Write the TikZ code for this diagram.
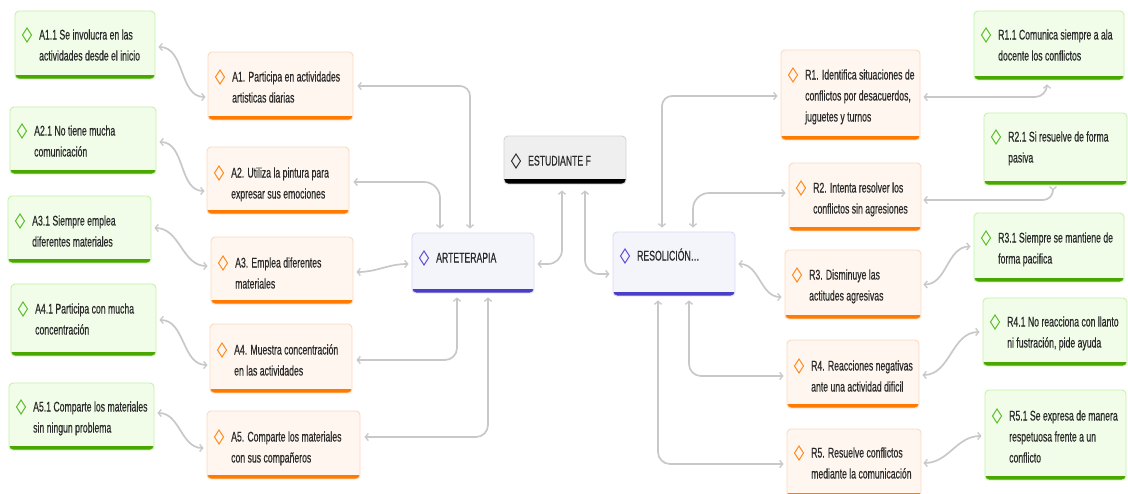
\documentclass[tikz,border=0pt]{standalone}
\usepackage{fontspec}
\setmainfont{Liberation Sans}[FakeStretch=0.62,FakeBold=0.4]
\usetikzlibrary{arrows.meta,calc}
\definecolor{tcol}{HTML}{2A2A2A}
\definecolor{ofill}{HTML}{FFF6EF}
\definecolor{oborder}{HTML}{FDD9BE}
\definecolor{obar}{HTML}{FF7A00}
\definecolor{odiacol}{HTML}{FF8A1E}
\definecolor{gfill}{HTML}{F1FDE9}
\definecolor{gborder}{HTML}{C6F2AA}
\definecolor{gbar}{HTML}{4AA600}
\definecolor{gdiacol}{HTML}{5CBE2C}
\definecolor{pfill}{HTML}{F4F4FB}
\definecolor{pborder}{HTML}{DCDAF6}
\definecolor{pbar}{HTML}{4A3FC6}
\definecolor{pdiacol}{HTML}{5B50D6}
\definecolor{kfill}{HTML}{EFEFEF}
\definecolor{kborder}{HTML}{D4D4D4}
\definecolor{kbar}{HTML}{000000}
\definecolor{kdiacol}{HTML}{333333}
\definecolor{cgrey}{HTML}{C8C8C8}
\tikzset{
  bx/.style n args={4}{rounded corners=4pt, line width=0.9pt, inner sep=0pt, draw=#1, fill=#2,
    path picture={\fill[#3, sharp corners] ([yshift=#4]path picture bounding box.south west) rectangle (path picture bounding box.south east);}},
  obox/.style={bx={oborder}{ofill}{obar}{4pt}},
  gbox/.style={bx={gborder}{gfill}{gbar}{4pt}},
  pbox/.style={bx={pborder}{pfill}{pbar}{4.5pt}},
  kbox/.style={bx={kborder}{kfill}{kbar}{5.5pt}},
  odiam/.style={draw=odiacol, line width=1pt},
  gdiam/.style={draw=gdiacol, line width=1pt},
  pdiam/.style={draw=pdiacol, line width=1pt},
  kdiam/.style={draw=kdiacol, line width=1pt},
  txt/.style={font=\fontsize{14}{21}\selectfont, text=tcol, inner sep=0pt, anchor=base west},
  con/.style={draw=cgrey, line width=1.7pt,
    {Straight Barb[length=3pt,width=7pt,line width=1.3pt]}-{Straight Barb[length=3pt,width=7pt,line width=1.3pt]}},
}
\newcommand\mybox[8]{%
  \node[#2box, minimum width={(#5-#3)*1pt}, minimum height={(#6-#4)*1pt}] (#1) at ({(#3+#5)/2},{(#4+#6)/2}) {};
  \draw[#2diam, shift={({#3+12},{#7})}] (0,-7) -- (4.5,0) -- (0,7) -- (-4.5,0) -- cycle;
  \node[txt] (#1t) at ({#3+24},{#7+4.5}) {\begin{tabular}[t]{@{}l@{}}#8\end{tabular}};
}
\begin{document}
\begin{tikzpicture}[x=1pt,y=-1pt]
\fill[white] (0,0) rectangle (1128,493);
\useasboundingbox (0,0) rectangle (1128,493);

\mybox{a11}{g}{15}{11}{155}{79}{35}{A1.1 Se involucra en las\\actividades desde el inicio}
\mybox{a21}{g}{10}{107}{156}{174}{131}{A2.1 No tiene mucha\\comunicación}
\mybox{a31}{g}{8}{196}{151}{263}{221}{A3.1 Siempre emplea\\diferentes materiales}
\mybox{a41}{g}{11}{284}{156}{356}{309}{A4.1 Participa con mucha\\concentración}
\mybox{a51}{g}{9}{383}{154}{450}{407}{A5.1 Comparte los materiales\\sin ningun problema}
\mybox{a1}{o}{208}{52}{353}{120}{77}{A1. Participa en actividades\\artisticas diarias}
\mybox{a2}{o}{207}{147}{349}{214}{173}{A2. Utiliza la pintura para\\expresar sus emociones}
\mybox{a3}{o}{211}{237}{353}{304}{263}{A3. Emplea diferentes\\materiales}
\mybox{a4}{o}{210}{324}{352}{393}{350}{A4. Muestra concentración\\en las actividades}
\mybox{a5}{o}{207}{411}{360}{479}{437}{A5. Comparte los materiales\\con sus compañeros}
\mybox{est}{k}{504}{136}{626}{184}{161}{ESTUDIANTE F}
\mybox{art}{p}{412}{233}{534}{293}{258}{ARTETERAPIA}
\mybox{res}{p}{613}{232}{735}{296}{256}{RESOLICIÓN…}
\mybox{r1}{o}{781}{50}{920}{140}{75}{R1. Identifica situaciones de\\conflictos por desacuerdos,\\juguetes y turnos}
\mybox{r2}{o}{789}{163}{921}{231}{188}{R2. Intenta resolver los\\conflictos sin agresiones}
\mybox{r3}{o}{785}{250}{921}{319}{275}{R3. Disminuye las\\actitudes agresivas}
\mybox{r4}{o}{787}{340}{919}{408}{366}{R4. Reacciones negativas\\ante una actividad dificil}
\mybox{r5}{o}{787}{429}{921}{497}{453}{R5. Resuelve conflictos\\mediante la comunicación}
\mybox{r11}{g}{974}{11}{1124}{80}{35}{R1.1 Comunica siempre a ala\\docente los conflictos}
\mybox{r21}{g}{984}{113}{1127}{185}{137}{R2.1 Si resuelve de forma\\pasiva}
\mybox{r31}{g}{974}{213}{1124}{282}{238}{R3.1 Siempre se mantiene de\\forma pacifica}
\mybox{r41}{g}{983}{298}{1127}{366}{322}{R4.1 No reacciona con llanto\\ni fustración, pide ayuda}
\mybox{r51}{g}{985}{390}{1126}{480}{416}{R5.1 Se expresa de manera\\respetuosa frente a un\\conflicto}

% left outer links
\draw[con] ($(a11.east)+(3,2)$) to[out=0,in=180] ($(a1.west)+(-2,11)$);
\draw[con] ($(a21.east)+(3,1.5)$) to[out=0,in=180] ($(a2.west)+(-2,10.5)$);
\draw[con] ($(a31.east)+(3,-1.5)$) to[out=0,in=180] ($(a3.west)+(-3,-4.5)$);
\draw[con] ($(a41.east)+(3,0)$) to[out=0,in=180] ($(a4.west)+(-2,6.5)$);
\draw[con] ($(a51.east)+(3,-3.5)$) to[out=0,in=180] ($(a5.west)+(-3,3)$);
% left to ARTETERAPIA
\draw[con, rounded corners=10pt] ($(a1.east)+(4,0)$) -| ($(art.north)+(-3,-4)$);
\draw[con, rounded corners=16pt] ($(a2.east)+(4,1.5)$) -| ($(art.north)+(-33,-4)$);
\draw[con] ($(a3.east)+(3,1.5)$) to[out=0,in=180] ($(art.west)+(-3,1)$);
\draw[con, rounded corners=12pt] ($(a4.east)+(4,1.5)$) -| ($(art.south)+(-16,4)$);
\draw[con, rounded corners=12pt] ($(a5.east)+(4,-8)$) -| ($(art.south)+(15,4)$);
% centre
\draw[con, rounded corners=14pt] ($(est.south)+(-3,6)$) |- ($(art.east)+(3,1)$);
\draw[con, rounded corners=14pt] ($(est.south)+(20,6)$) |- ($(res.west)+(-3,10)$);
% right to RESOLICION
\draw[con, rounded corners=10pt] ($(r1.west)+(-3,1)$) -| ($(res.north)+(-12,-4)$);
\draw[con, rounded corners=16pt] ($(r2.west)+(-3,-4)$) -| ($(res.north)+(19,-4)$);
\draw[con] ($(r3.west)+(-3,12.5)$) to[out=180,in=0] ($(res.east)+(3,0)$);
\draw[con, rounded corners=12pt] ($(r4.west)+(-3,2)$) -| ($(res.south)+(15,4)$);
\draw[con, rounded corners=12pt] ($(r5.west)+(-3,1)$) -| ($(res.south)+(-16,4)$);
% right outer links
\draw[con, rounded corners=12pt] ($(r1.east)+(3,2)$) -| ($(r11.south)+(-2,4)$);
\draw[con, rounded corners=10pt] ($(r2.east)+(2,3)$) -| ($(r21.south)+(-2.5,5)$);
\draw[con] ($(r3.east)+(2,0)$) to[out=0,in=180] ($(r31.west)+(-3,-1)$);
\draw[con] ($(r4.east)+(3,1)$) to[out=0,in=180] ($(r41.west)+(-3,0)$);
\draw[con] ($(r5.east)+(2,0)$) to[out=0,in=180] ($(r51.west)+(-3,1)$);
\end{tikzpicture}
\end{document}
